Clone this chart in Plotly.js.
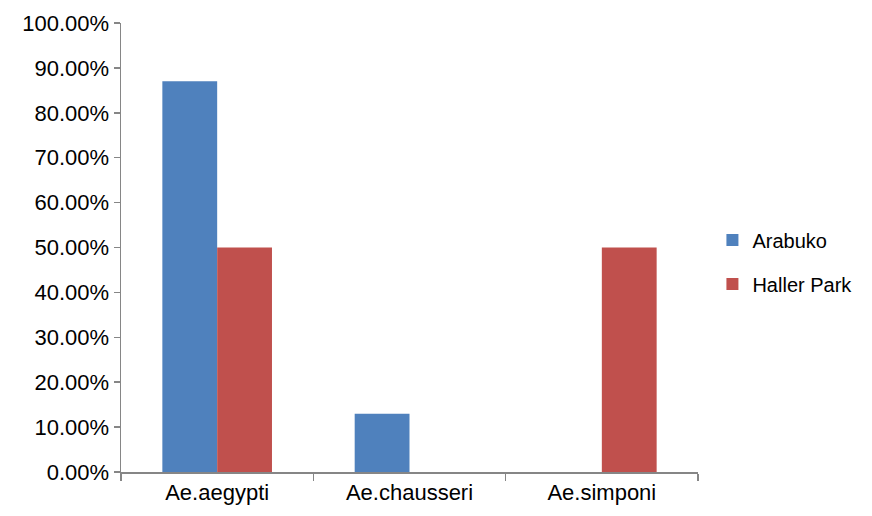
<!DOCTYPE html>
<html>
<head>
<meta charset="utf-8">
<script src="https://cdn.plot.ly/plotly-3.0.1.min.js"></script>
<style>html,body{margin:0;padding:0;background:#fff;}#chart{width:872px;height:516px;}</style>
</head>
<body>
<div id="chart"></div>
<script>
var categories = ["Ae.aegypti", "Ae.chausseri", "Ae.simponi"];
var arabuko = [0.87, 0.13, 0];
var hallerPark = [0.50, 0, 0.50];
var seriesNames = ["Arabuko", "Haller Park"];
var yTickVals = [0, 0.1, 0.2, 0.3, 0.4, 0.5, 0.6, 0.7, 0.8, 0.9, 1.0];

var font = "Liberation Sans, Arial, sans-serif";
var traces = [
  {type: "bar", name: seriesNames[0], x: categories, y: arabuko, marker: {color: "#4F81BD"}, legendgroup: "a"},
  {type: "bar", name: seriesNames[1], x: categories, y: hallerPark, marker: {color: "#C0504D"}, legendgroup: "b"}
];
var layout = {
  width: 872, height: 516,
  margin: {l: 121, r: 174, t: 23, b: 44},
  paper_bgcolor: "#fff", plot_bgcolor: "#fff",
  barmode: "group", bargap: 0.43, bargroupgap: 0,
  font: {family: font, size: 20, color: "#000"},
  showlegend: true,
  legend: {x: 1.025, xanchor: "left", y: 0.56, yanchor: "top", font: {family: font, size: 20, color: "#000"}, tracegroupgap: 15, traceorder: "grouped"},
  xaxis: {
    type: "category", showline: true, linecolor: "#868686", linewidth: 1.5,
    ticks: "outside", tickson: "boundaries", ticklen: 7, tickcolor: "#868686", tickwidth: 1.5,
    showgrid: false, zeroline: false, tickfont: {family: font, size: 22}
  },
  yaxis: {
    range: [0, 1.0], tickvals: yTickVals, tickformat: ".2%",
    showline: true, linecolor: "#868686", linewidth: 1.5,
    ticks: "outside", ticklen: 6, tickcolor: "#868686", tickwidth: 1.5,
    showgrid: false, zeroline: false, tickfont: {family: font, size: 22}
  }
};
Plotly.newPlot("chart", traces, layout, {displayModeBar: false, staticPlot: true});
</script>
</body>
</html>
